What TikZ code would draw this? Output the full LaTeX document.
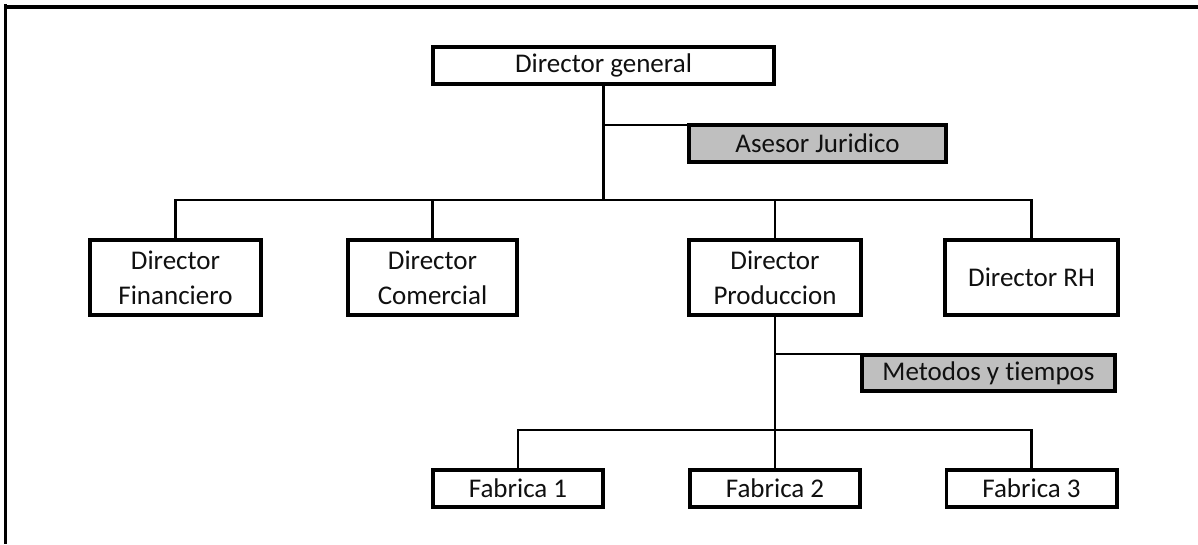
\documentclass[tikz,border=0pt]{standalone}
\usepackage{fontspec}
\setmainfont{Carlito}[Ligatures=NoCommon]
\definecolor{staffgray}{HTML}{BFBFBF}
\definecolor{inkcol}{HTML}{101010}
\begin{document}
\begin{tikzpicture}[x=1pt,y=-1pt,
  unit/.style={draw=black,line width=3.8pt,fill=white,text=inkcol,
    inner sep=0pt,align=center,font=\fontsize{27}{35}\selectfont},
  staff/.style={unit,fill=staffgray},
  link/.style={draw=black,line width=2.2pt}]
\useasboundingbox (0,0) rectangle (1198,544);

% page frame (top and left rules)
\draw[line width=3.8pt] (4,6.7) -- (1198,6.7);
\draw[line width=2.8pt] (5.2,4) -- (5.2,544);

% top level and staff advisor
\node[unit,minimum width=341.2pt,minimum height=37.2pt] (dg) at (603.5,65.5) {Director general};
\node[staff,minimum width=257.2pt,minimum height=37.2pt] (ase) at (817.5,143.5) {Asesor Juridico};

% second level
\node[unit,minimum width=171.2pt,minimum height=75.2pt] (fin) at (175.5,277.5) {Director\\Financiero};
\node[unit,minimum width=169.2pt,minimum height=75.2pt] (com) at (432.5,277.5) {Director\\Comercial};
\node[unit,minimum width=172.2pt,minimum height=75.2pt] (pro) at (775,277.5) {Director\\Produccion};
\node[unit,minimum width=173.2pt,minimum height=75.2pt] (rh)  at (1031.5,277.5) {Director RH};

% production staff and plants
\node[staff,minimum width=253.2pt,minimum height=36.2pt] (met) at (988.5,373) {Metodos y tiempos};
\node[unit,minimum width=170.2pt,minimum height=37.2pt] (f1) at (518,488.5) {Fabrica 1};
\node[unit,minimum width=170.2pt,minimum height=37.2pt] (f2) at (775,488.5) {Fabrica 2};
\node[unit,minimum width=170.2pt,minimum height=37.2pt] (f3) at (1031.5,488.5) {Fabrica 3};

% junction points on the trunks
\coordinate (a1) at (dg.south |- 0,125);
\coordinate (j1) at (dg.south |- 0,200);
\coordinate (m1) at (pro.south |- 0,354);
\coordinate (j2) at (pro.south |- 0,430);

% connectors from the general director
\draw[link] (dg.south) -- (j1);
\draw[link] (a1) -- (a1 -| ase.west);
\draw[link] (fin.north) -- (fin.north |- j1) -- (rh.north |- j1) -- (rh.north);
\draw[link] (com.north) -- (com.north |- j1);
\draw[link] (pro.north) -- (pro.north |- j1);

% connectors from production
\draw[link] (pro.south) -- (j2);
\draw[link] (m1) -- (m1 -| met.west);
\draw[link] (f1.north) -- (f1.north |- j2) -- (f3.north |- j2) -- (f3.north);
\draw[link] (f2.north) -- (f2.north |- j2);
\end{tikzpicture}
\end{document}
